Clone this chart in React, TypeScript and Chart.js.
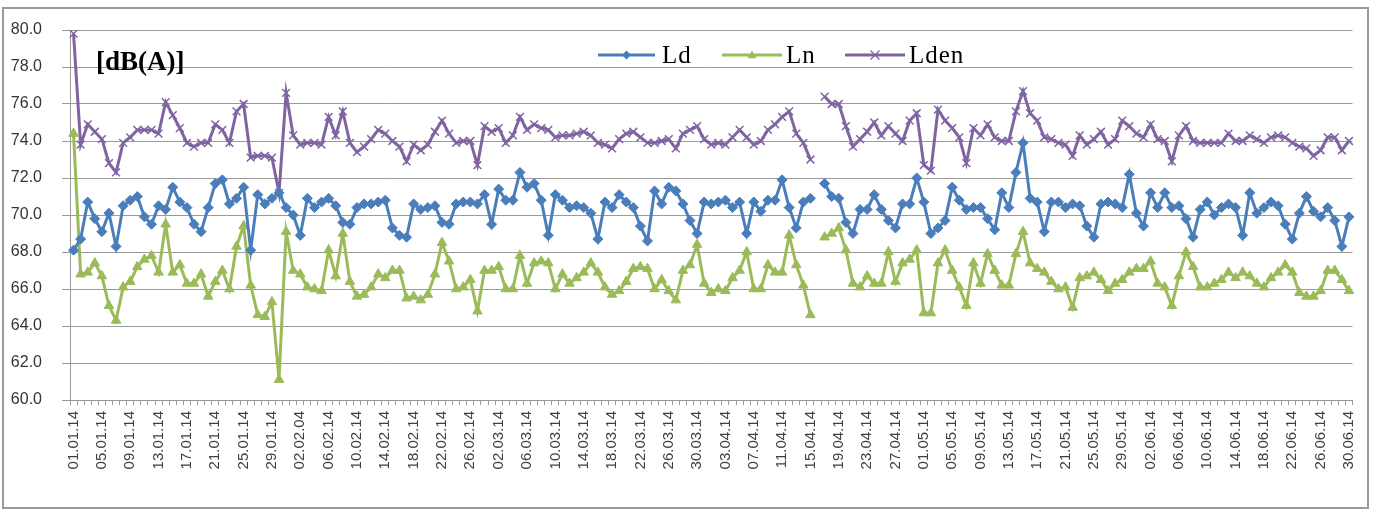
import React, { useEffect, useRef } from 'react';
import { Chart, registerables } from 'chart.js';

Chart.register(...registerables);

// ---------- data ----------
const monthLengths = [31, 28, 31, 30, 31, 30];
const categories: string[] = [];
monthLengths.forEach((len, m) => {
  for (let d = 1; d <= len; d++) {
    categories.push(String(d).padStart(2, '0') + '.' + String(m + 1).padStart(2, '0') + '.14');
  }
});

const tickLabels = [
  '01.01.14', '05.01.14', '09.01.14', '13.01.14', '17.01.14', '21.01.14', '25.01.14', '29.01.14',
  '02.02.04', '06.02.14', '10.02.14', '14.02.14', '18.02.14', '22.02.14', '26.02.14', '02.03.14',
  '06.03.14', '10.03.14', '14.03.14', '18.03.14', '22.03.14', '26.03.14', '30.03.14', '03.04.14',
  '07.04.14', '11.04.14', '15.04.14', '19.04.14', '23.04.14', '27.04.14', '01.05.14', '05.05.14',
  '09.05.14', '13.05.14', '17.05.14', '21.05.14', '25.05.14', '29.05.14', '02.06.14', '06.06.14',
  '10.06.14', '14.06.14', '18.06.14', '22.06.14', '26.06.14', '30.06.14',
];

const ldValues: (number | null)[] = [
  68.1, 68.7, 70.7, 69.8, 69.1, 70.1, 68.3, 70.5, 70.8, 71.0,
  69.9, 69.5, 70.5, 70.3, 71.5, 70.7, 70.4, 69.5, 69.1, 70.4,
  71.7, 71.9, 70.6, 70.9, 71.5, 68.1, 71.1, 70.6, 70.9, 71.2,
  70.4, 70.0, 68.9, 70.9, 70.4, 70.7, 70.9, 70.5, 69.6, 69.5,
  70.4, 70.6, 70.6, 70.7, 70.8, 69.3, 68.9, 68.8, 70.6, 70.3,
  70.4, 70.5, 69.6, 69.5, 70.6, 70.7, 70.7, 70.6, 71.1, 69.5,
  71.4, 70.8, 70.8, 72.3, 71.5, 71.7, 70.8, 68.9, 71.1, 70.8,
  70.4, 70.5, 70.4, 70.1, 68.7, 70.7, 70.4, 71.1, 70.7, 70.4,
  69.4, 68.6, 71.3, 70.6, 71.5, 71.3, 70.6, 69.7, 69.0, 70.7,
  70.6, 70.7, 70.8, 70.4, 70.7, 69.0, 70.7, 70.2, 70.8, 70.8,
  71.9, 70.4, 69.3, 70.7, 70.9, null, 71.7, 71.0, 70.9, 69.6,
  69.0, 70.3, 70.3, 71.1, 70.3, 69.7, 69.3, 70.6, 70.6, 72.0,
  70.7, 69.0, 69.3, 69.7, 71.5, 70.8, 70.3, 70.4, 70.4, 69.8,
  69.2, 71.2, 70.4, 72.3, 73.9, 70.9, 70.7, 69.1, 70.7, 70.7,
  70.4, 70.6, 70.5, 69.4, 68.8, 70.6, 70.7, 70.6, 70.4, 72.2,
  70.1, 69.4, 71.2, 70.4, 71.2, 70.4, 70.5, 69.8, 68.8, 70.3,
  70.7, 70.0, 70.4, 70.6, 70.4, 68.9, 71.2, 70.1, 70.4, 70.7,
  70.5, 69.5, 68.7, 70.1, 71.0, 70.2, 69.9, 70.4, 69.7, 68.3,
  69.9,
];

const lnValues: (number | null)[] = [
  74.4, 66.8, 66.9, 67.4, 66.7, 65.1, 64.3, 66.1, 66.4, 67.2,
  67.6, 67.8, 66.9, 69.5, 66.9, 67.3, 66.3, 66.3, 66.8, 65.6,
  66.4, 67.0, 66.0, 68.3, 69.4, 66.2, 64.6, 64.5, 65.3, 61.1,
  69.1, 67.0, 66.8, 66.1, 66.0, 65.9, 68.1, 66.7, 69.0, 66.4,
  65.6, 65.7, 66.1, 66.8, 66.6, 67.0, 67.0, 65.5, 65.6, 65.4,
  65.7, 66.8, 68.5, 67.5, 66.0, 66.1, 66.5, 64.8, 67.0, 67.0,
  67.2, 66.0, 66.0, 67.8, 66.3, 67.4, 67.5, 67.4, 66.0, 66.8,
  66.3, 66.6, 66.9, 67.4, 66.9, 66.1, 65.7, 65.9, 66.4, 67.1,
  67.2, 67.1, 66.0, 66.5, 65.9, 65.4, 67.0, 67.3, 68.4, 66.3,
  65.8, 66.0, 65.9, 66.6, 67.0, 68.0, 66.0, 66.0, 67.3, 66.9,
  66.9, 68.9, 67.3, 66.2, 64.6, null, 68.8, 69.0, 69.3, 68.1,
  66.3, 66.1, 66.7, 66.3, 66.3, 68.0, 66.4, 67.4, 67.6, 68.1,
  64.7, 64.7, 67.4, 68.1, 67.0, 66.1, 65.1, 67.4, 66.3, 67.9,
  67.0, 66.2, 66.2, 67.9, 69.1, 67.4, 67.1, 66.9, 66.4, 66.0,
  66.1, 65.0, 66.6, 66.7, 66.9, 66.5, 65.9, 66.3, 66.5, 66.9,
  67.1, 67.1, 67.5, 66.3, 66.1, 65.1, 66.7, 68.0, 67.2, 66.1,
  66.1, 66.3, 66.5, 66.9, 66.6, 66.9, 66.7, 66.3, 66.1, 66.6,
  66.9, 67.3, 66.9, 65.8, 65.6, 65.6, 65.9, 67.0, 67.0, 66.5,
  65.9,
];

const ldenValues: (number | null)[] = [
  79.8, 73.8, 74.9, 74.5, 74.1, 72.8, 72.3, 73.9, 74.2, 74.6,
  74.6, 74.6, 74.4, 76.1, 75.4, 74.7, 73.9, 73.7, 73.9, 73.9,
  74.9, 74.6, 73.9, 75.6, 76.0, 73.1, 73.2, 73.2, 73.1, 71.2,
  76.6, 74.3, 73.8, 73.9, 73.9, 73.8, 75.3, 74.3, 75.6, 73.9,
  73.4, 73.7, 74.1, 74.6, 74.4, 74.0, 73.7, 72.9, 73.8, 73.5,
  73.8, 74.5, 75.1, 74.4, 73.9, 74.0, 74.0, 72.7, 74.8, 74.5,
  74.7, 73.9, 74.3, 75.3, 74.6, 74.9, 74.7, 74.6, 74.2, 74.3,
  74.3, 74.4, 74.5, 74.3, 73.9, 73.8, 73.6, 74.1, 74.4, 74.5,
  74.2, 73.9, 73.9, 74.0, 74.1, 73.6, 74.4, 74.6, 74.8, 74.1,
  73.8, 73.9, 73.8, 74.2, 74.6, 74.2, 73.8, 74.0, 74.6, 74.9,
  75.3, 75.6, 74.4, 73.9, 73.0, null, 76.4, 76.0, 76.0, 74.8,
  73.7, 74.1, 74.5, 75.0, 74.3, 74.8, 74.4, 74.0, 75.1, 75.5,
  72.7, 72.4, 75.7, 75.1, 74.7, 74.2, 72.8, 74.7, 74.3, 74.9,
  74.2, 74.0, 74.0, 75.6, 76.7, 75.5, 75.1, 74.2, 74.1, 73.9,
  73.8, 73.2, 74.3, 73.8, 74.1, 74.5, 73.8, 74.1, 75.1, 74.8,
  74.4, 74.2, 74.9, 74.1, 74.0, 72.9, 74.3, 74.8, 74.0, 73.9,
  73.9, 73.9, 73.9, 74.4, 74.0, 74.0, 74.3, 74.1, 73.9, 74.2,
  74.3, 74.2, 73.9, 73.7, 73.6, 73.2, 73.5, 74.2, 74.2, 73.5,
  74.0,
];

const seriesNames = ['Ld', 'Ln', 'Lden'];
const unitLabel = '[dB(A)]';

// ---------- styles ----------
const COLORS = ['#4A7EBB', '#9BBB59', '#8064A2'];
const GRID = '#9a9a9a';
const SANS = "'Liberation Sans', Arial, sans-serif";
const SERIF = "'Liberation Serif', 'Times New Roman', serif";

function drawMarker(ctx: CanvasRenderingContext2D, kind: string, x: number, y: number, r: number, color: string) {
  ctx.save();
  ctx.fillStyle = color;
  ctx.strokeStyle = color;
  ctx.beginPath();
  if (kind === 'diamond') {
    ctx.moveTo(x, y - r);
    ctx.lineTo(x + r, y);
    ctx.lineTo(x, y + r);
    ctx.lineTo(x - r, y);
    ctx.closePath();
    ctx.fill();
  } else if (kind === 'triangle') {
    ctx.moveTo(x, y - r);
    ctx.lineTo(x + r, y + r * 0.7);
    ctx.lineTo(x - r, y + r * 0.7);
    ctx.closePath();
    ctx.fill();
  } else {
    ctx.lineWidth = 1.2;
    ctx.moveTo(x - r, y - r);
    ctx.lineTo(x + r, y + r);
    ctx.moveTo(x + r, y - r);
    ctx.lineTo(x - r, y + r);
    ctx.stroke();
  }
  ctx.restore();
}

const legendLayout = [
  { x0: 598, x1: 655, tx: 662, kind: 'diamond' },
  { x0: 722, x1: 782, tx: 786, kind: 'triangle' },
  { x0: 845, x1: 905, tx: 909, kind: 'cross' },
];

const decorPlugin = {
  id: 'decor',
  beforeDraw(chart: any) {
    const ctx = chart.ctx as CanvasRenderingContext2D;
    ctx.save();
    ctx.fillStyle = '#ffffff';
    ctx.fillRect(0, 0, chart.width, chart.height);
    ctx.strokeStyle = '#9a9a9a';
    ctx.lineWidth = 2;
    ctx.strokeRect(3, 8, 1365, 500);
    ctx.restore();
  },
  afterDraw(chart: any) {
    const ctx = chart.ctx as CanvasRenderingContext2D;
    ctx.save();
    // unit label
    ctx.fillStyle = '#000';
    ctx.font = `bold 27px ${SERIF}`;
    ctx.textBaseline = 'middle';
    ctx.textAlign = 'left';
    ctx.fillText(unitLabel, 96, 63);
    // legend
    const y = 55;
    legendLayout.forEach((it, i) => {
      ctx.strokeStyle = COLORS[i];
      ctx.lineWidth = 3;
      ctx.beginPath();
      ctx.moveTo(it.x0, y);
      ctx.lineTo(it.x1, y);
      ctx.stroke();
      drawMarker(ctx, it.kind, (it.x0 + it.x1) / 2, y, 4.5, COLORS[i]);
      ctx.fillStyle = '#000';
      ctx.font = `25px ${SERIF}`;
      ctx.textBaseline = 'middle';
      (ctx as any).letterSpacing = '1px';
      ctx.fillText(seriesNames[i], it.tx, y + 1);
    });
    ctx.restore();
  },
};

export default function App() {
  const canvasRef = useRef<HTMLCanvasElement | null>(null);

  useEffect(() => {
    if (!canvasRef.current) return;
    const chart = new Chart(canvasRef.current, {
      type: 'line',
      data: {
        labels: categories,
        datasets: [
          {
            label: seriesNames[0],
            data: ldValues,
            borderColor: COLORS[0],
            backgroundColor: COLORS[0],
            borderWidth: 3,
            pointStyle: 'rectRot',
            pointRadius: 5,
            pointBorderWidth: 1,
            spanGaps: false,
            tension: 0,
          },
          {
            label: seriesNames[1],
            data: lnValues,
            borderColor: COLORS[1],
            backgroundColor: COLORS[1],
            borderWidth: 3,
            pointStyle: 'triangle',
            pointRadius: 5.5,
            pointBorderWidth: 1,
            spanGaps: false,
            tension: 0,
          },
          {
            label: seriesNames[2],
            data: ldenValues,
            borderColor: COLORS[2],
            backgroundColor: COLORS[2],
            borderWidth: 3,
            pointStyle: 'crossRot',
            pointRadius: 5.5,
            pointBorderWidth: 1.5,
            spanGaps: false,
            tension: 0,
          },
        ],
      },
      options: {
        responsive: false,
        animation: false,
        events: [],
        layout: { padding: { left: 0, top: 30, right: 16, bottom: 0 } },
        plugins: {
          legend: { display: false },
          tooltip: { enabled: false },
          title: { display: false },
        },
        scales: {
          x: {
            type: 'category',
            offset: true,
            grid: {
              display: true,
              drawOnChartArea: false,
              drawTicks: true,
              tickLength: 5,
              offset: true,
              color: GRID,
            },
            border: { display: true, color: GRID, width: 1 },
            ticks: {
              autoSkip: false,
              minRotation: 90,
              maxRotation: 90,
              padding: 6,
              color: '#404040',
              font: { family: SANS, size: 15 },
              callback: (_v: any, i: number) => (i % 4 === 0 ? tickLabels[i / 4] : ''),
            },
            afterFit: (scale: any) => {
              scale.height = 113;
            },
          },
          y: {
            min: 60,
            max: 80,
            grid: { color: GRID, tickLength: 8, lineWidth: 1 },
            border: { display: true, color: GRID, width: 1 },
            ticks: {
              stepSize: 2,
              padding: 20,
              color: '#333',
              font: { family: SANS, size: 16 },
              callback: (v: any) => Number(v).toFixed(1),
            },
            afterFit: (scale: any) => {
              scale.width = 70;
            },
          },
        },
      },
      plugins: [decorPlugin],
    } as any);
    return () => chart.destroy();
  }, []);

  return (
    <div style={{ position: 'fixed', left: 0, top: 0, width: 1373, height: 513, background: '#fff' }}>
      <canvas ref={canvasRef} width={1373} height={513} style={{ display: 'block' }} />
    </div>
  );
}
